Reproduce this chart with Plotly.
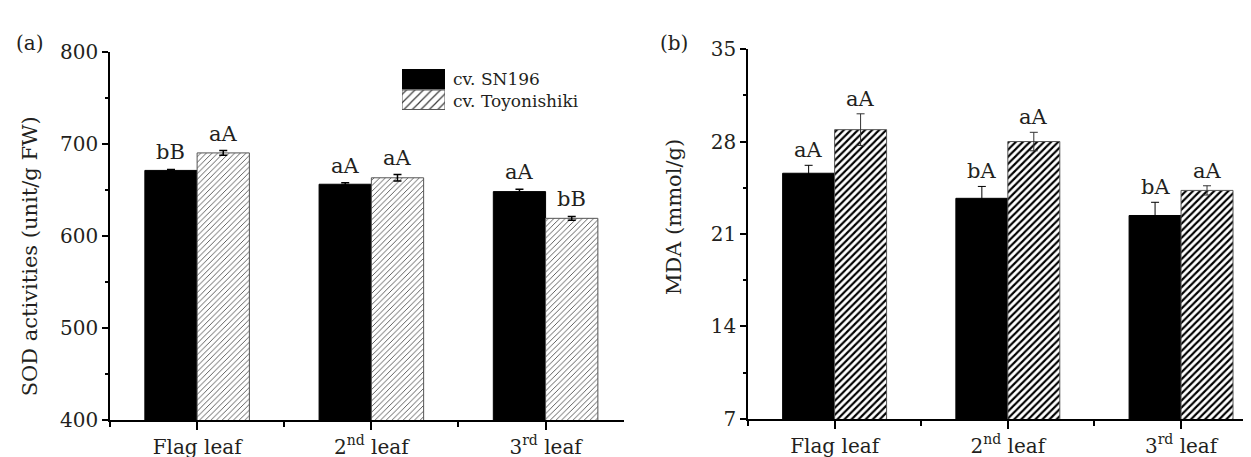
import plotly.graph_objects as go

# ---------------- data ----------------
categories = ["Flag leaf", "2<sup>nd</sup> leaf", "3<sup>rd</sup> leaf"]
series_names = ["cv. SN196", "cv. Toyonishiki"]

sod_sn196 = [671, 656, 648]
sod_sn196_err = [1.0, 1.5, 2.5]
sod_toyo = [690, 663, 619]
sod_toyo_err = [2.5, 3.5, 2.0]
sod_sn196_letters = ["bB", "aA", "aA"]
sod_toyo_letters = ["aA", "aA", "bB"]

mda_sn196 = [25.6, 23.7, 22.4]
mda_sn196_err = [0.6, 0.9, 1.0]
mda_toyo = [28.9, 28.0, 24.3]
mda_toyo_err = [1.2, 0.7, 0.35]
mda_sn196_letters = ["aA", "bA", "bA"]
mda_toyo_letters = ["aA", "aA", "aA"]

sod_ticks = [400, 500, 600, 700, 800]
mda_ticks = [7, 14, 21, 28, 35]

# ---------------- style ----------------
W, H = 1251, 457
FONT = "DejaVu Serif"
TXT = "#231f20"
BAR_W = 0.3
xpos = list(range(len(categories)))

fig = go.Figure()

def add_panel(xa, ya, sn, sn_err, ty, ty_err, hatch_size, hatch_solidity, hatch_color,
              err_color_sn, err_color_ty, err_thick):
    fig.add_trace(go.Bar(
        x=xpos, y=sn, name=series_names[0], xaxis=xa, yaxis=ya,
        marker=dict(color="black", line=dict(color="black", width=1)),
        error_y=dict(type="data", array=sn_err, color=err_color_sn, thickness=err_thick, width=4),
        offsetgroup="sn", showlegend=False,
    ))
    fig.add_trace(go.Bar(
        x=xpos, y=ty, name=series_names[1], xaxis=xa, yaxis=ya,
        marker=dict(color="white", line=dict(color="#555555", width=1),
                    pattern=dict(shape="/", size=hatch_size, solidity=hatch_solidity,
                                 fgcolor=hatch_color, bgcolor="white", fillmode="replace")),
        error_y=dict(type="data", array=ty_err, color=err_color_ty, thickness=err_thick, width=4),
        offsetgroup="ty", showlegend=False,
    ))

add_panel("x", "y", sod_sn196, sod_sn196_err, sod_toyo, sod_toyo_err, 4, 0.2, "#3a3a3a",
          "black", "black", 1.5)
add_panel("x2", "y2", mda_sn196, mda_sn196_err, mda_toyo, mda_toyo_err, 5, 0.42, "black",
          "black", "#333333", 1)

# legend swatches (small inset axis)
fig.add_trace(go.Bar(
    x=[1], y=[0], orientation="h", xaxis="x3", yaxis="y3", width=0.95,
    marker=dict(color="black", line=dict(color="black", width=1)), showlegend=False))
fig.add_trace(go.Bar(
    x=[1], y=[1], orientation="h", xaxis="x3", yaxis="y3", width=0.95,
    marker=dict(color="white", line=dict(color="#555555", width=1),
                pattern=dict(shape="/", size=6, solidity=0.2, fgcolor="#3a3a3a",
                             bgcolor="white", fillmode="replace")),
    showlegend=False))

def px_x(p):
    return p / W

def px_y(p):
    return 1 - p / H

common_axis = dict(
    showline=True, linecolor="black", linewidth=1.5, showgrid=False, zeroline=False,
    ticks="outside", tickcolor="black", tickwidth=1.5, mirror=False,
    tickfont=dict(family=FONT, size=20, color=TXT),
)

xaxis_common = dict(
    common_axis, range=[-0.5, 2.45], tickvals=xpos, ticktext=categories, ticklen=8,
    tickfont=dict(family=FONT, size=20, color=TXT),
    minor=dict(tick0=0.5, dtick=1, ticks="outside", ticklen=5, tickcolor="black", tickwidth=1.5),
)

fig.update_layout(
    width=W, height=H,
    margin=dict(l=0, r=0, t=0, b=0),
    paper_bgcolor="white", plot_bgcolor="white",
    barmode="group", bargap=0.4, bargroupgap=0,
    font=dict(family=FONT, color=TXT),
    showlegend=False,
    xaxis=dict(xaxis_common, domain=[px_x(102), px_x(616)], anchor="y"),
    yaxis=dict(common_axis, domain=[px_y(422.3), px_y(33.3)], anchor="x", range=[400, 800],
               tickvals=sod_ticks, ticklen=6,
               minor=dict(dtick=50, ticks="outside", ticklen=3, tickcolor="black", tickwidth=1.5)),
    xaxis2=dict(xaxis_common, domain=[px_x(740), 1.0], anchor="y2"),
    yaxis2=dict(common_axis, domain=[px_y(421), px_y(30.7)], anchor="x2", range=[7, 35],
                tickvals=mda_ticks, ticklen=6,
                minor=dict(dtick=3.5, ticks="outside", ticklen=3, tickcolor="black", tickwidth=1.5)),
    xaxis3=dict(domain=[px_x(394), px_x(437)], anchor="y3", range=[0, 1], visible=False, fixedrange=True),
    yaxis3=dict(domain=[px_y(95), px_y(51.7)], anchor="x3", range=[1.5, -0.5], visible=False, fixedrange=True),
)

ann = []

def letters(xa, ya, vals, errs, labs, offset, shift):
    for i, (v, e, t) in enumerate(zip(vals, errs, labs)):
        ann.append(dict(x=xpos[i] + offset, y=v + e, xref=xa, yref=ya, text=t, showarrow=False,
                        yanchor="bottom", xanchor="center", yshift=shift,
                        font=dict(family=FONT, size=21, color=TXT)))

letters("x", "y", sod_sn196, sod_sn196_err, sod_sn196_letters, -BAR_W / 2, 3)
letters("x", "y", sod_toyo, sod_toyo_err, sod_toyo_letters, BAR_W / 2, 3)
letters("x2", "y2", mda_sn196, mda_sn196_err, mda_sn196_letters, -BAR_W / 2, 1)
letters("x2", "y2", mda_toyo, mda_toyo_err, mda_toyo_letters, BAR_W / 2, 1)

# axis titles
ann.append(dict(x=px_x(21.5), y=px_y(250), xref="paper", yref="paper", text="SOD activities (unit/g FW)",
                textangle=-90, showarrow=False, xanchor="center", yanchor="middle",
                font=dict(family=FONT, size=21, color=TXT)))
ann.append(dict(x=px_x(666), y=px_y(208), xref="paper", yref="paper", text="MDA (mmol/g)",
                textangle=-90, showarrow=False, xanchor="center", yanchor="middle",
                font=dict(family=FONT, size=21, color=TXT)))
# panel labels
ann.append(dict(x=px_x(22), y=px_y(24), xref="paper", yref="paper", text="(a)", showarrow=False,
                xanchor="center", yanchor="middle", font=dict(family=FONT, size=20, color=TXT)))
ann.append(dict(x=px_x(666), y=px_y(24), xref="paper", yref="paper", text="(b)", showarrow=False,
                xanchor="center", yanchor="middle", font=dict(family=FONT, size=20, color=TXT)))
# legend labels
for name, yc in zip(series_names, [62, 85]):
    ann.append(dict(x=px_x(443), y=px_y(yc), xref="paper", yref="paper", text=name, showarrow=False,
                    xanchor="left", yanchor="middle", font=dict(family=FONT, size=17, color=TXT)))

fig.update_layout(annotations=ann)
fig.write_html("out.html")
